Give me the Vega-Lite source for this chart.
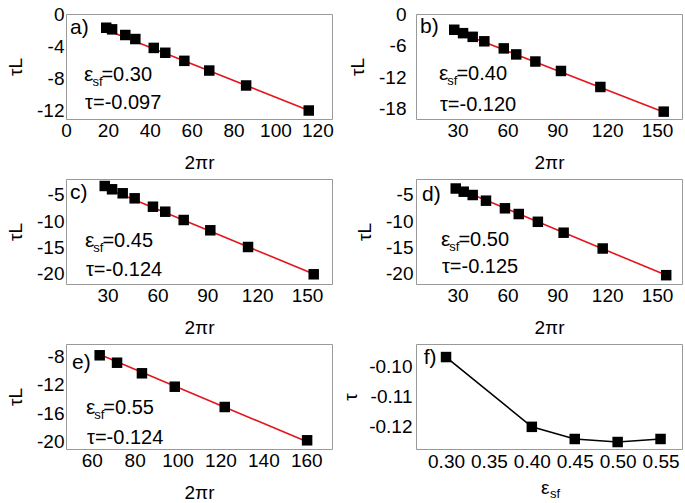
{
  "$schema": "https://vega.github.io/schema/vega-lite/v6.json",
  "padding": {"left": 6, "top": 4, "right": 4, "bottom": 2},
  "config": {
    "font": "Liberation Sans",
    "locale": {"number": {"decimal": ".", "thousands": ",", "grouping": [3], "currency": ["$", ""], "minus": "-"}},
    "view": {"stroke": "#999999", "strokeWidth": 1},
    "axis": {"ticks": false, "domain": false, "grid": false, "labelFontSize": 19, "labelColor": "black", "titleFontSize": 19, "titleFontWeight": "normal", "titleColor": "black", "labelFlush": false, "labelOverlap": false, "tickCount": 12},
    "text": {"color": "black", "align": "left", "baseline": "alphabetic"}
  },
  "datasets": {
    "a": [{"x": 19.2, "y": -1.7}, {"x": 22.0, "y": -1.9}, {"x": 28.3, "y": -2.6}, {"x": 33.1, "y": -3.1}, {"x": 41.9, "y": -4.2}, {"x": 47.4, "y": -4.8}, {"x": 56.5, "y": -5.8}, {"x": 68.4, "y": -7.0}, {"x": 86.0, "y": -8.85}, {"x": 115.9, "y": -11.95}],
    "fit_a": [{"x": 19.6, "y": -2.0}, {"x": 117.5, "y": -12.1}],
    "b": [{"x": 28.0, "y": -3.0}, {"x": 33.3, "y": -3.65}, {"x": 39.1, "y": -4.35}, {"x": 46.1, "y": -5.2}, {"x": 57.8, "y": -6.55}, {"x": 65.3, "y": -7.7}, {"x": 76.8, "y": -9.05}, {"x": 92.2, "y": -10.85}, {"x": 115.9, "y": -13.9}, {"x": 154.0, "y": -18.6}],
    "fit_b": [{"x": 28.6, "y": -3.2}, {"x": 155.0, "y": -18.8}],
    "c": [{"x": 28.3, "y": -3.33}, {"x": 32.7, "y": -3.96}, {"x": 39.1, "y": -4.72}, {"x": 46.3, "y": -5.68}, {"x": 57.3, "y": -7.28}, {"x": 64.7, "y": -8.23}, {"x": 75.8, "y": -9.81}, {"x": 91.8, "y": -11.77}, {"x": 114.5, "y": -14.95}, {"x": 154.0, "y": -20.15}],
    "fit_c": [{"x": 29.7, "y": -3.8}, {"x": 154.0, "y": -20.1}],
    "d": [{"x": 28.9, "y": -3.81}, {"x": 33.7, "y": -4.42}, {"x": 39.1, "y": -5.05}, {"x": 47.1, "y": -6.13}, {"x": 58.5, "y": -7.58}, {"x": 66.8, "y": -8.67}, {"x": 78.3, "y": -10.15}, {"x": 93.8, "y": -12.23}, {"x": 117.3, "y": -15.24}, {"x": 155.5, "y": -20.32}],
    "fit_d": [{"x": 29.3, "y": -3.7}, {"x": 156.0, "y": -20.4}],
    "e": [{"x": 63.7, "y": -7.88}, {"x": 71.8, "y": -8.92}, {"x": 83.4, "y": -10.4}, {"x": 98.7, "y": -12.28}, {"x": 122.0, "y": -15.12}, {"x": 160.4, "y": -19.78}],
    "fit_e": [{"x": 63.2, "y": -7.7}, {"x": 160.4, "y": -20.0}],
    "f": [{"esf": 0.30, "tau": -0.097}, {"esf": 0.40, "tau": -0.120}, {"esf": 0.45, "tau": -0.124}, {"esf": 0.50, "tau": -0.125}, {"esf": 0.55, "tau": -0.124}]
  },
  "columns": 2,
  "bounds": "flush",
  "spacing": {"row": 60, "column": 84},
  "concat": [
    {
      "width": 266, "height": 105,
      "layer": [
        {"data": {"name": "fit_a"}, "mark": {"type": "line", "color": "#e3151b", "strokeWidth": 1.6},
         "encoding": {
           "x": {"field": "x", "type": "quantitative", "scale": {"domain": [0, 127], "nice": false, "zero": false}, "axis": {"title": "2πr", "values": [0, 20, 40, 60, 80, 100, 120], "tickCount": 12, "labelPadding": 2, "titlePadding": 13, "labelOverlap": false}},
           "y": {"field": "y", "type": "quantitative", "scale": {"domain": [-13, 0], "nice": false, "zero": false}, "axis": {"title": "τL", "values": [0, -4, -8, -12], "tickCount": 12, "format": "d", "labelPadding": 2, "titlePadding": 11, "labelOverlap": false}}}},
        {"data": {"name": "a"}, "mark": {"type": "point", "shape": "square", "filled": true, "color": "black", "opacity": 1, "size": 110},
         "encoding": {"x": {"field": "x", "type": "quantitative"}, "y": {"field": "y", "type": "quantitative"}}},
        {"data": {"values": [{}]}, "mark": {"type": "text", "fontSize": 21}, "encoding": {"x": {"datum": 1.9, "type": "quantitative"}, "y": {"datum": -2.48, "type": "quantitative"}, "text": {"value": "a)"}}},
        {"data": {"values": [{}]}, "mark": {"type": "text", "fontSize": 21}, "encoding": {"x": {"datum": 8.6, "type": "quantitative"}, "y": {"datum": -8.3, "type": "quantitative"}, "text": {"value": "ε"}}},
        {"data": {"values": [{}]}, "mark": {"type": "text", "fontSize": 13}, "encoding": {"x": {"datum": 12.6, "type": "quantitative"}, "y": {"datum": -8.9, "type": "quantitative"}, "text": {"value": "sf"}}},
        {"data": {"values": [{}]}, "mark": {"type": "text", "fontSize": 20}, "encoding": {"x": {"datum": 16.9, "type": "quantitative"}, "y": {"datum": -8.3, "type": "quantitative"}, "text": {"value": "=0.30"}}},
        {"data": {"values": [{}]}, "mark": {"type": "text", "fontSize": 20}, "encoding": {"x": {"datum": 9.1, "type": "quantitative"}, "y": {"datum": -11.76, "type": "quantitative"}, "text": {"value": "τ=-0.097"}}}
      ]
    },
    {
      "width": 266, "height": 105,
      "layer": [
        {"data": {"name": "fit_b"}, "mark": {"type": "line", "color": "#e3151b", "strokeWidth": 1.6},
         "encoding": {
           "x": {"field": "x", "type": "quantitative", "scale": {"domain": [5, 165], "nice": false, "zero": false}, "axis": {"title": "2πr", "values": [30, 60, 90, 120, 150], "tickCount": 12, "labelPadding": 2, "titlePadding": 13, "labelOverlap": false}},
           "y": {"field": "y", "type": "quantitative", "scale": {"domain": [-20, 0], "nice": false, "zero": false}, "axis": {"title": "τL", "values": [0, -6, -12, -18], "tickCount": 12, "format": "d", "labelPadding": 10, "titlePadding": 11, "labelOverlap": false}}}},
        {"data": {"name": "b"}, "mark": {"type": "point", "shape": "square", "filled": true, "color": "black", "opacity": 1, "size": 110},
         "encoding": {"x": {"field": "x", "type": "quantitative"}, "y": {"field": "y", "type": "quantitative"}}},
        {"data": {"values": [{}]}, "mark": {"type": "text", "fontSize": 21}, "encoding": {"x": {"datum": 7.4, "type": "quantitative"}, "y": {"datum": -3.6, "type": "quantitative"}, "text": {"value": "b)"}}},
        {"data": {"values": [{}]}, "mark": {"type": "text", "fontSize": 21}, "encoding": {"x": {"datum": 18.8, "type": "quantitative"}, "y": {"datum": -12.6, "type": "quantitative"}, "text": {"value": "ε"}}},
        {"data": {"values": [{}]}, "mark": {"type": "text", "fontSize": 13}, "encoding": {"x": {"datum": 23.8, "type": "quantitative"}, "y": {"datum": -13.5, "type": "quantitative"}, "text": {"value": "sf"}}},
        {"data": {"values": [{}]}, "mark": {"type": "text", "fontSize": 20}, "encoding": {"x": {"datum": 29.3, "type": "quantitative"}, "y": {"datum": -12.6, "type": "quantitative"}, "text": {"value": "=0.40"}}},
        {"data": {"values": [{}]}, "mark": {"type": "text", "fontSize": 20}, "encoding": {"x": {"datum": 19.4, "type": "quantitative"}, "y": {"datum": -18.5, "type": "quantitative"}, "text": {"value": "τ=-0.120"}}}
      ]
    },
    {
      "width": 266, "height": 105,
      "layer": [
        {"data": {"name": "fit_c"}, "mark": {"type": "line", "color": "#e3151b", "strokeWidth": 1.6},
         "encoding": {
           "x": {"field": "x", "type": "quantitative", "scale": {"domain": [5, 165], "nice": false, "zero": false}, "axis": {"title": "2πr", "values": [30, 60, 90, 120, 150], "tickCount": 12, "labelPadding": 2, "titlePadding": 13, "labelOverlap": false}},
           "y": {"field": "y", "type": "quantitative", "scale": {"domain": [-22, -2], "nice": false, "zero": false}, "axis": {"title": "τL", "values": [-5, -10, -15, -20], "tickCount": 12, "format": "d", "labelPadding": 2, "titlePadding": 11, "labelOverlap": false}}}},
        {"data": {"name": "c"}, "mark": {"type": "point", "shape": "square", "filled": true, "color": "black", "opacity": 1, "size": 110},
         "encoding": {"x": {"field": "x", "type": "quantitative"}, "y": {"field": "y", "type": "quantitative"}}},
        {"data": {"values": [{}]}, "mark": {"type": "text", "fontSize": 21}, "encoding": {"x": {"datum": 7.4, "type": "quantitative"}, "y": {"datum": -5.8, "type": "quantitative"}, "text": {"value": "c)"}}},
        {"data": {"values": [{}]}, "mark": {"type": "text", "fontSize": 21}, "encoding": {"x": {"datum": 16.4, "type": "quantitative"}, "y": {"datum": -14.95, "type": "quantitative"}, "text": {"value": "ε"}}},
        {"data": {"values": [{}]}, "mark": {"type": "text", "fontSize": 13}, "encoding": {"x": {"datum": 21.4, "type": "quantitative"}, "y": {"datum": -15.9, "type": "quantitative"}, "text": {"value": "sf"}}},
        {"data": {"values": [{}]}, "mark": {"type": "text", "fontSize": 20}, "encoding": {"x": {"datum": 26.9, "type": "quantitative"}, "y": {"datum": -14.95, "type": "quantitative"}, "text": {"value": "=0.45"}}},
        {"data": {"values": [{}]}, "mark": {"type": "text", "fontSize": 20}, "encoding": {"x": {"datum": 17.0, "type": "quantitative"}, "y": {"datum": -20.5, "type": "quantitative"}, "text": {"value": "τ=-0.124"}}}
      ]
    },
    {
      "width": 266, "height": 105,
      "layer": [
        {"data": {"name": "fit_d"}, "mark": {"type": "line", "color": "#e3151b", "strokeWidth": 1.6},
         "encoding": {
           "x": {"field": "x", "type": "quantitative", "scale": {"domain": [5, 165], "nice": false, "zero": false}, "axis": {"title": "2πr", "values": [30, 60, 90, 120, 150], "tickCount": 12, "labelPadding": 2, "titlePadding": 13, "labelOverlap": false}},
           "y": {"field": "y", "type": "quantitative", "scale": {"domain": [-22, -2], "nice": false, "zero": false}, "axis": {"title": "τL", "values": [-5, -10, -15, -20], "tickCount": 12, "format": "d", "labelPadding": 3, "titlePadding": 11, "labelOverlap": false}}}},
        {"data": {"name": "d"}, "mark": {"type": "point", "shape": "square", "filled": true, "color": "black", "opacity": 1, "size": 110},
         "encoding": {"x": {"field": "x", "type": "quantitative"}, "y": {"field": "y", "type": "quantitative"}}},
        {"data": {"values": [{}]}, "mark": {"type": "text", "fontSize": 21}, "encoding": {"x": {"datum": 8.6, "type": "quantitative"}, "y": {"datum": -6.2, "type": "quantitative"}, "text": {"value": "d)"}}},
        {"data": {"values": [{}]}, "mark": {"type": "text", "fontSize": 21}, "encoding": {"x": {"datum": 20.0, "type": "quantitative"}, "y": {"datum": -14.8, "type": "quantitative"}, "text": {"value": "ε"}}},
        {"data": {"values": [{}]}, "mark": {"type": "text", "fontSize": 13}, "encoding": {"x": {"datum": 25.0, "type": "quantitative"}, "y": {"datum": -15.7, "type": "quantitative"}, "text": {"value": "sf"}}},
        {"data": {"values": [{}]}, "mark": {"type": "text", "fontSize": 20}, "encoding": {"x": {"datum": 30.5, "type": "quantitative"}, "y": {"datum": -14.8, "type": "quantitative"}, "text": {"value": "=0.50"}}},
        {"data": {"values": [{}]}, "mark": {"type": "text", "fontSize": 20}, "encoding": {"x": {"datum": 20.6, "type": "quantitative"}, "y": {"datum": -19.9, "type": "quantitative"}, "text": {"value": "τ=-0.125"}}}
      ]
    },
    {
      "width": 266, "height": 105,
      "layer": [
        {"data": {"name": "fit_e"}, "mark": {"type": "line", "color": "#e3151b", "strokeWidth": 1.6},
         "encoding": {
           "x": {"field": "x", "type": "quantitative", "scale": {"domain": [48, 172], "nice": false, "zero": false}, "axis": {"title": "2πr", "values": [60, 80, 100, 120, 140, 160], "tickCount": 12, "labelPadding": 2, "titlePadding": 13, "labelOverlap": false}},
           "y": {"field": "y", "type": "quantitative", "scale": {"domain": [-21, -6.3], "nice": false, "zero": false}, "axis": {"title": "τL", "values": [-8, -12, -16, -20], "tickCount": 12, "format": "d", "labelPadding": 2, "titlePadding": 11, "labelOverlap": false}}}},
        {"data": {"name": "e"}, "mark": {"type": "point", "shape": "square", "filled": true, "color": "black", "opacity": 1, "size": 110},
         "encoding": {"x": {"field": "x", "type": "quantitative"}, "y": {"field": "y", "type": "quantitative"}}},
        {"data": {"values": [{}]}, "mark": {"type": "text", "fontSize": 21}, "encoding": {"x": {"datum": 50.8, "type": "quantitative"}, "y": {"datum": -9.8, "type": "quantitative"}, "text": {"value": "e)"}}},
        {"data": {"values": [{}]}, "mark": {"type": "text", "fontSize": 21}, "encoding": {"x": {"datum": 57.3, "type": "quantitative"}, "y": {"datum": -16.1, "type": "quantitative"}, "text": {"value": "ε"}}},
        {"data": {"values": [{}]}, "mark": {"type": "text", "fontSize": 13}, "encoding": {"x": {"datum": 61.2, "type": "quantitative"}, "y": {"datum": -16.8, "type": "quantitative"}, "text": {"value": "sf"}}},
        {"data": {"values": [{}]}, "mark": {"type": "text", "fontSize": 20}, "encoding": {"x": {"datum": 65.4, "type": "quantitative"}, "y": {"datum": -16.1, "type": "quantitative"}, "text": {"value": "=0.55"}}},
        {"data": {"values": [{}]}, "mark": {"type": "text", "fontSize": 20}, "encoding": {"x": {"datum": 57.8, "type": "quantitative"}, "y": {"datum": -20.3, "type": "quantitative"}, "text": {"value": "τ=-0.124"}}}
      ]
    },
    {
      "width": 266, "height": 105,
      "layer": [
        {"data": {"name": "f"}, "mark": {"type": "line", "color": "black", "strokeWidth": 1.6},
         "encoding": {
           "x": {"field": "esf", "type": "quantitative", "scale": {"domain": [0.265, 0.575], "nice": false, "zero": false}, "axis": {"title": "ε", "titleAlign": "right", "titleAnchor": "middle", "values": [0.30, 0.35, 0.40, 0.45, 0.50, 0.55], "tickCount": 12, "format": ".2f", "labelPadding": 3, "titlePadding": 7, "labelOverlap": false}},
           "y": {"field": "tau", "type": "quantitative", "scale": {"domain": [-0.1273, -0.0927], "nice": false, "zero": false}, "axis": {"title": "τ", "values": [-0.10, -0.11, -0.12], "tickCount": 12, "format": ".2f", "labelPadding": 4, "titlePadding": 8, "labelOverlap": false}}}},
        {"data": {"name": "f"}, "mark": {"type": "point", "shape": "square", "filled": true, "color": "black", "opacity": 1, "size": 110},
         "encoding": {"x": {"field": "esf", "type": "quantitative"}, "y": {"field": "tau", "type": "quantitative"}}},
        {"data": {"values": [{}]}, "mark": {"type": "text", "fontSize": 21}, "encoding": {"x": {"datum": 0.274, "type": "quantitative"}, "y": {"datum": -0.0993, "type": "quantitative"}, "text": {"value": "f)"}}},
        {"data": {"values": [{}]}, "mark": {"type": "text", "fontSize": 13}, "encoding": {"x": {"datum": 0.4212, "type": "quantitative"}, "y": {"datum": -0.1434, "type": "quantitative"}, "text": {"value": "sf"}}}
      ]
    }
  ]
}
